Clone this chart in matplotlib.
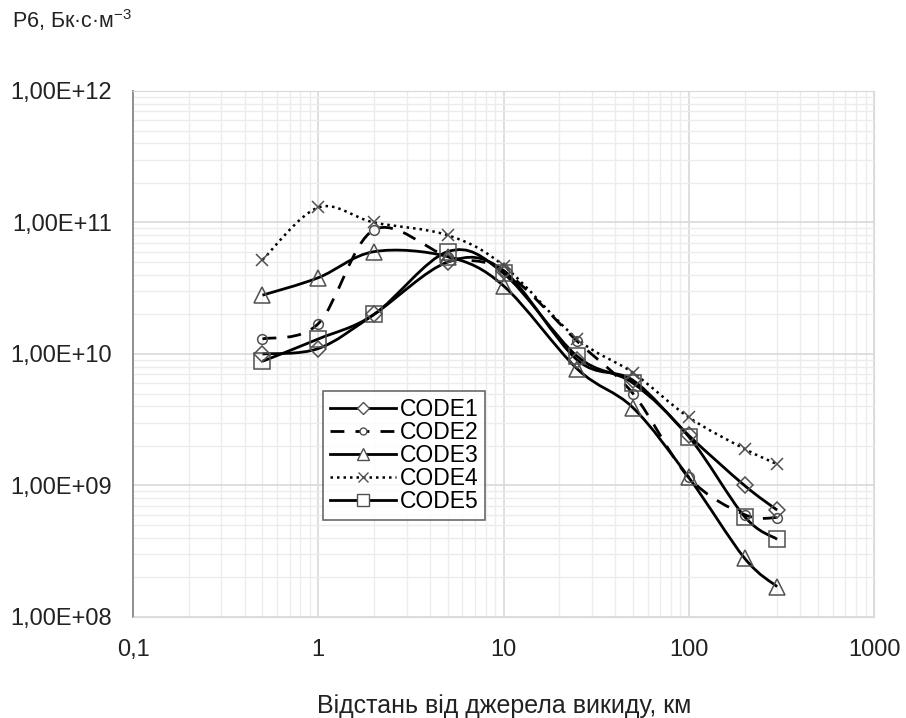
import numpy as np
import matplotlib
matplotlib.use("Agg")
import matplotlib.pyplot as plt
from matplotlib.path import Path
from matplotlib.patches import PathPatch
from matplotlib.lines import Line2D
from matplotlib.ticker import FixedLocator, LogLocator, NullFormatter

plt.rcParams['font.family'] = ['Liberation Sans', 'DejaVu Sans']
plt.rcParams['mathtext.fontset'] = 'custom'
plt.rcParams['mathtext.rm'] = 'Liberation Sans'
plt.rcParams['mathtext.it'] = 'Liberation Sans'

# distance, km
dist = [0.5, 1, 2, 5, 10, 25, 50, 100, 200, 300]

code1 = [1.0e10, 1.1e10, 2.0e10, 5.0e10, 4.3e10, 9.0e9, 6.3e9, 2.4e9, 1.0e9, 6.5e8]
code2 = [1.3e10, 1.7e10, 8.8e10, 5.5e10, 4.3e10, 1.25e10, 5.0e9, 1.15e9, 6.0e8, 5.7e8]
code3 = [2.8e10, 3.8e10, 6.0e10, 5.5e10, 3.3e10, 7.7e9, 3.9e9, 1.15e9, 2.8e8, 1.7e8]
code4 = [5.2e10, 1.3e11, 1.0e11, 8.0e10, 4.7e10, 1.3e10, 7.2e9, 3.3e9, 1.9e9, 1.45e9]
code5 = [8.8e9, 1.3e10, 2.0e10, 6.0e10, 4.1e10, 9.6e9, 6.0e9, 2.35e9, 5.8e8, 3.9e8]

names = ["CODE1", "CODE2", "CODE3", "CODE4", "CODE5"]
series = [code1, code2, code3, code4, code5]
lstyles = ['-', (0, (5, 4)), '-', (0, (1, 1.6)), '-']
lwidths = [2.0, 2.0, 2.0, 1.8, 2.0]
markers = ['D', 'o', '^', 'x', 's']
msizes = [8, 7, 11, 9, 12]
leg_msizes = [6, 5, 9, 7, 9]

xtick_vals = [0.1, 1, 10, 100, 1000]
xtick_labels = ["0,1", "1", "10", "100", "1000"]
ytick_vals = [1e8, 1e9, 1e10, 1e11, 1e12]
ytick_labels = ["1,00E+08", "1,00E+09", "1,00E+10", "1,00E+11", "1,00E+12"]


def smooth_path(x, y):
    # Excel-like smoothed line: Bezier segments built in log-log space
    lx = np.log10(x)
    ly = np.log10(y)
    n = len(lx)
    verts = [(lx[0], ly[0])]
    codes = [Path.MOVETO]
    for i in range(n - 1):
        p0 = np.array([lx[max(i - 1, 0)], ly[max(i - 1, 0)]])
        p1 = np.array([lx[i], ly[i]])
        p2 = np.array([lx[i + 1], ly[i + 1]])
        p3 = np.array([lx[min(i + 2, n - 1)], ly[min(i + 2, n - 1)]])
        c1 = p1 + (p2 - p0) / 6.0
        c2 = p2 - (p3 - p1) / 6.0
        verts += [tuple(c1), tuple(c2), tuple(p2)]
        codes += [Path.CURVE4] * 3
    verts = 10 ** np.array(verts)
    return Path(verts, codes)


fig = plt.figure(figsize=(9.06, 7.18), dpi=100)
ax = fig.add_axes([0.1468, 0.1407, 0.8179, 0.7326])
ax.set_xscale('log')
ax.set_yscale('log')
ax.set_xlim(0.1, 1000)
ax.set_ylim(1e8, 1e12)

handles = []
for vals, ls, lw, mk, ms, lms in zip(series, lstyles, lwidths, markers, msizes, leg_msizes):
    patch = PathPatch(smooth_path(dist, vals), facecolor='none', edgecolor='black',
                      linestyle=ls, linewidth=lw, zorder=3, capstyle='butt')
    ax.add_patch(patch)
    ax.plot(dist, vals, linestyle='none', marker=mk, markersize=ms,
            markerfacecolor='none', markeredgecolor='#505050', markeredgewidth=1.1, zorder=4)
    handles.append(Line2D([], [], color='black', linestyle=ls, linewidth=lw, marker=mk,
                          markersize=lms, markerfacecolor='white',
                          markeredgecolor='#505050', markeredgewidth=1.0))

ax.xaxis.set_major_locator(FixedLocator(xtick_vals))
ax.set_xticklabels(xtick_labels)
ax.yaxis.set_major_locator(FixedLocator(ytick_vals))
ax.set_yticklabels(ytick_labels)
ax.xaxis.set_minor_locator(LogLocator(base=10, subs=np.arange(2, 10)))
ax.yaxis.set_minor_locator(LogLocator(base=10, subs=np.arange(2, 10)))
ax.xaxis.set_minor_formatter(NullFormatter())
ax.yaxis.set_minor_formatter(NullFormatter())
ax.tick_params(which='both', length=0, labelsize=17, colors='#222222')
ax.tick_params(axis='x', pad=16)
ax.tick_params(axis='y', pad=15)

ax.grid(True, which='major', color='#d9d9d9', linewidth=1.2)
ax.grid(True, which='minor', color='#ececec', linewidth=1.0)
ax.set_axisbelow(True)
for s in ['top', 'right', 'bottom']:
    ax.spines[s].set_color('#d9d9d9')
ax.spines['left'].set_color('#888888')
ax.spines['left'].set_linewidth(1.3)

leg = ax.legend(handles, names, loc='upper left', bbox_to_anchor=(0.256, 0.43),
                fontsize=16.5, frameon=True, fancybox=False, handlelength=2.9,
                handletextpad=0.15, labelspacing=0.0, borderpad=0.3, borderaxespad=0)
leg.get_frame().set_edgecolor('#444444')
leg.get_frame().set_linewidth(1.2)

fig.text(0.013, 0.972, r"Р6, Бк·с·м$^{-3}$", fontsize=15.5, color='#222222', va='center')
fig.text(0.557, 0.0, "Відстань від джерела викиду, км", fontsize=18,
         color='#222222', ha='center', va='bottom')

fig.savefig("out.png", dpi=100)
